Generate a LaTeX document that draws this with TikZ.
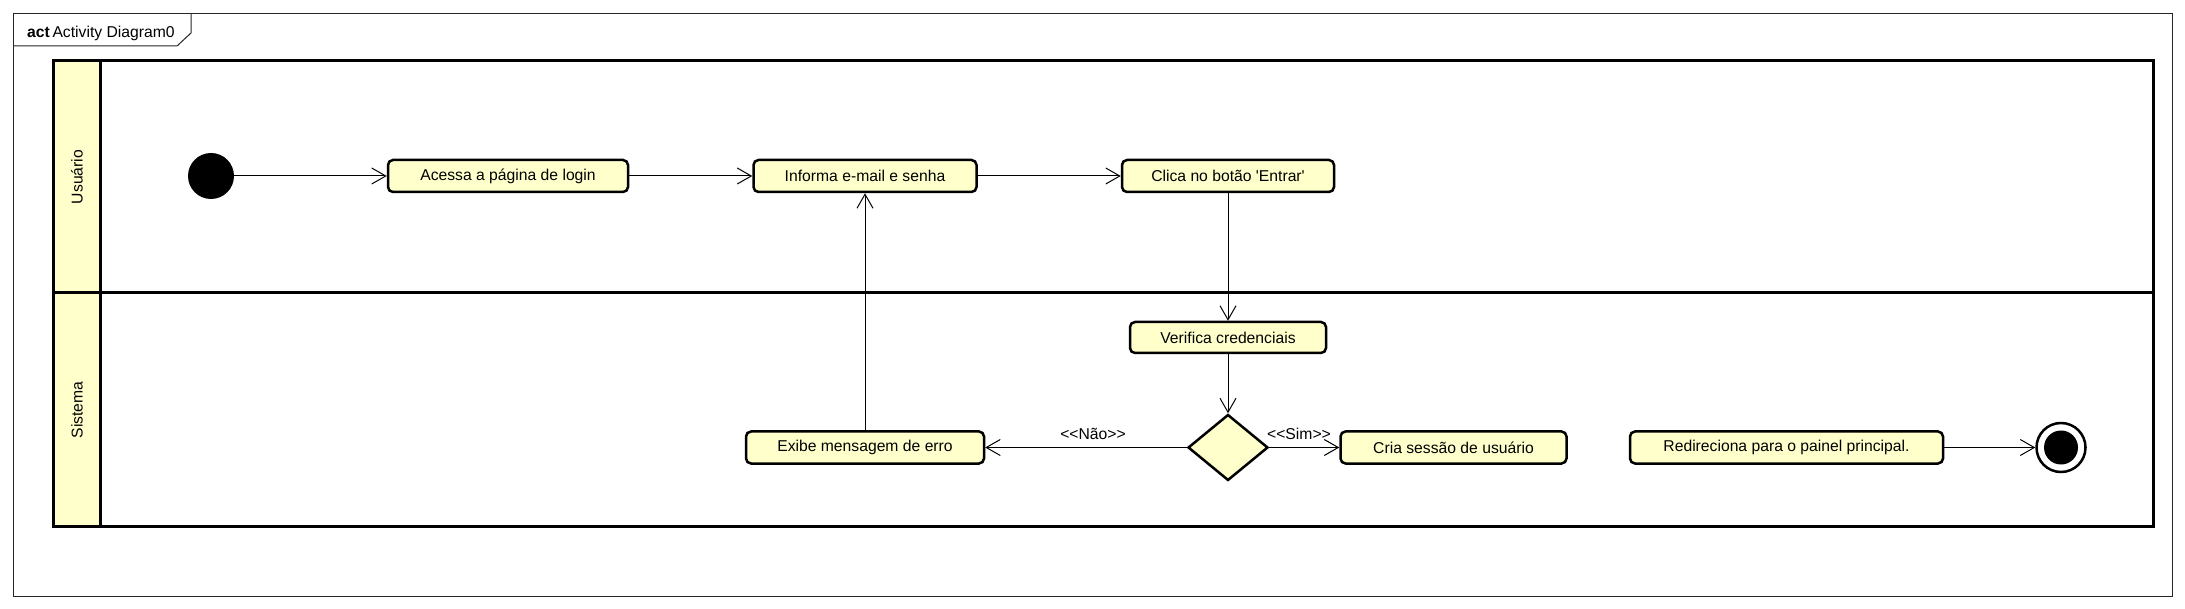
\documentclass[tikz,border=0pt]{standalone}
\usepackage{fontspec}
\setmainfont{Liberation Sans}[Ligatures=TeXOff]
\usetikzlibrary{arrows.meta,shapes.geometric}
\definecolor{actfill}{RGB}{255,255,204}
\begin{document}
\begin{tikzpicture}[x=1pt,y=-1pt,
  txt/.style={font=\fontsize{15.7}{18}\selectfont},
  act/.style={txt, draw, line width=2.5pt, rounded corners=5pt, fill=actfill, minimum height=32pt, inner sep=0pt},
  flow/.style={line width=1pt, -{Straight Barb[length=14pt,width=16pt,line width=1pt]}},
  lbl/.style={txt, inner sep=0pt},
]
\useasboundingbox (0,0) rectangle (2185,609);
\fill[white] (0,0) rectangle (2185,609);
% frame
\draw[line width=1pt, black!85] (13.5,14) rectangle (2172.5,596.5);
\draw[line width=1pt, black!85] (13.5,46) -- (177,46) -- (191,33) -- (191,14);
\node[lbl, anchor=base west] (title) at (27,38) {\textbf{act}\,Activity Diagram0};
% pool
\fill[actfill] (53.5,61) rectangle (100,526);
\draw[line width=3pt] (53.5,61) rectangle (2153,526);
\draw[line width=3pt] (100,61) -- (100,526);
\draw[line width=3pt] (53.5,293) -- (2153,293);
\node[lbl, rotate=90] (lane1) at (77,177) {Usuário};
\node[lbl, rotate=90] (lane2) at (77,410) {Sistema};
% nodes
\node[circle, fill=black, minimum size=46pt, inner sep=0pt] (init) at (211,176) {};
\node[act, minimum width=240pt] (acessa) at (508,176) {Acessa a página de login};
\node[act, minimum width=223pt] (informa) at (865,176) {Informa e-mail e senha};
\node[act, minimum width=212pt] (clica) at (1228,176) {Clica no botão 'Entrar'};
\node[act, minimum width=196pt, minimum height=31pt] (verifica) at (1228,337.5) {Verifica credenciais};
\node[diamond, draw, line width=2.5pt, fill=actfill, minimum width=80pt, minimum height=66pt, inner sep=0pt] (dec) at (1228,447.5) {};
\node[act, minimum width=238pt] (exibe) at (865,447.5) {Exibe mensagem de erro};
\node[act, minimum width=226pt] (cria) at (1453.5,447.5) {Cria sessão de usuário};
\node[act, minimum width=313pt] (redir) at (1786.5,447.5) {Redireciona para o painel principal.};
\node[circle, draw, line width=2.5pt, fill=white, minimum size=49pt, inner sep=0pt] (final) at (2061,447.5) {};
\fill (final.center) circle (17);
% connectors
\draw[flow] (init) -- (acessa);
\draw[flow] (acessa) -- (informa);
\draw[flow] (informa) -- (clica);
\draw[flow] (clica) -- (verifica);
\draw[flow] (verifica) -- (dec);
\draw[flow] (dec) -- (exibe);
\draw[flow] (dec) -- (cria);
\draw[flow] (exibe) -- (informa);
\draw[flow] (redir) -- (final);
\node[lbl] (nao) at (1093,434) {<{}<Não>{}>};
\node[lbl] (sim) at (1299,434) {<{}<Sim>{}>};
\end{tikzpicture}
\end{document}
